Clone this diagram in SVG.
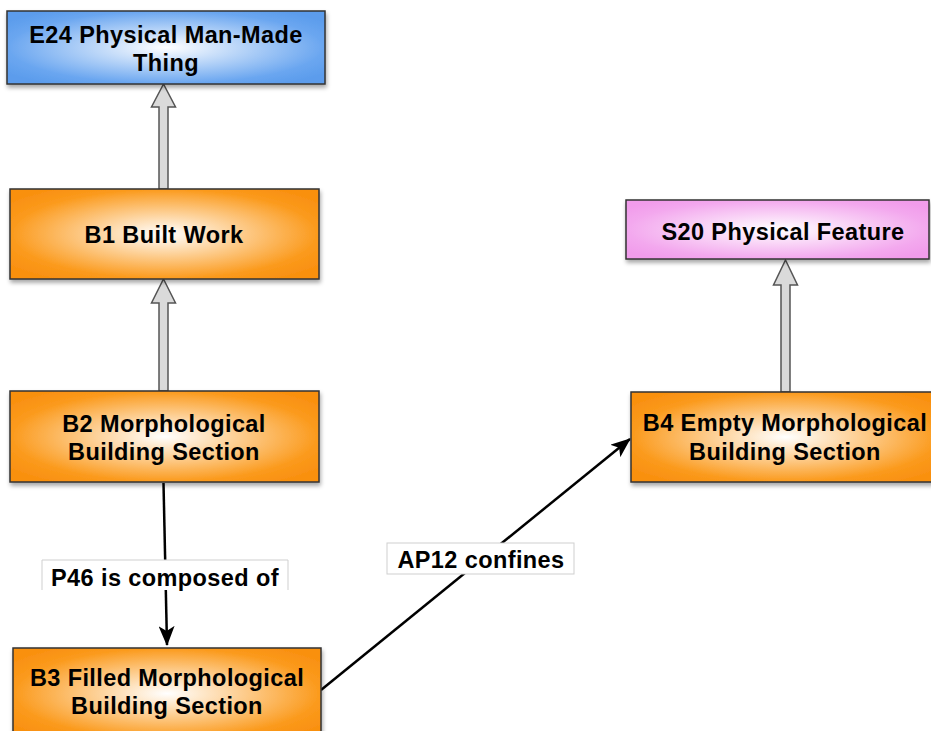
<svg xmlns="http://www.w3.org/2000/svg" width="931" height="731" viewBox="0 0 931 731">
  <defs>
    <radialGradient id="gOrange" cx="0.5" cy="0.5" r="0.62">
      <stop offset="0" stop-color="#ffffff"/>
      <stop offset="0.8" stop-color="#fb9a1c"/>
      <stop offset="1" stop-color="#f99010"/>
    </radialGradient>
    <radialGradient id="gBlue" cx="0.5" cy="0.5" r="0.62">
      <stop offset="0" stop-color="#ffffff"/>
      <stop offset="0.8" stop-color="#6aa6f0"/>
      <stop offset="1" stop-color="#5b9cec"/>
    </radialGradient>
    <radialGradient id="gPink" cx="0.5" cy="0.5" r="0.62">
      <stop offset="0" stop-color="#ffffff"/>
      <stop offset="0.8" stop-color="#f3a8ee"/>
      <stop offset="1" stop-color="#f19ceb"/>
    </radialGradient>
    <filter id="shadow" x="-10%" y="-20%" width="120%" height="150%">
      <feDropShadow dx="1" dy="3" stdDeviation="2" flood-color="#000" flood-opacity="0.35"/>
    </filter>
    <marker id="arrow" viewBox="0 0 20 16" refX="19" refY="8" markerWidth="20" markerHeight="16" markerUnits="userSpaceOnUse" orient="auto">
      <path d="M0,0 L20,8 L0,16 L5,8 z" fill="#000"/>
    </marker>
  </defs>
  <style>
    .box { stroke: #333; stroke-width: 1.5; filter: url(#shadow); }
    .orange { fill: url(#gOrange); }
    .blue { fill: url(#gBlue); }
    .pink { fill: url(#gPink); }
    .t { font-family: "Liberation Sans", Arial, Helvetica, sans-serif; font-weight: bold; font-size: 23.5px; letter-spacing: 0.4px; fill: #000; text-anchor: middle; }
    .gen { fill: #dadada; stroke: #555; stroke-width: 1.5; stroke-linejoin: miter; }
    .rel { stroke: #000; stroke-width: 2.5; fill: none; marker-end: url(#arrow); }
    .lbl { fill: #fff; }
    .lblb { fill: none; stroke: #cfcfcf; stroke-width: 1; }
  </style>

  <rect width="931" height="731" fill="#fff"/>

  <!-- connectors -->
  <g id="connectors">
    <!-- B1 is-a E24 -->
    <path class="gen" d="M163.5,84 L175.5,107 L168,107 L168,189 L159,189 L159,107 L151.5,107 Z"/>
    <!-- B2 is-a B1 -->
    <path class="gen" d="M163.5,279 L175.5,303 L168,303 L168,391 L159,391 L159,303 L151.5,303 Z"/>
    <!-- B4 is-a S20 -->
    <path class="gen" d="M785.5,260 L797.5,285 L790,285 L790,392 L781,392 L781,285 L773.5,285 Z"/>
    <!-- P46 is composed of -->
    <line class="rel" x1="163.5" y1="483" x2="167" y2="645"/>
    <rect class="lbl" x="42" y="560" width="246" height="30"/>
    <path class="lblb" d="M42,590 V560 H288 V590"/>
    <text class="t" x="165" y="586">P46 is composed of</text>
    <!-- AP12 confines -->
    <line class="rel" x1="321" y1="690" x2="630" y2="439"/>
    <rect class="lbl" x="387" y="543" width="187" height="31"/>
    <rect class="lblb" x="387" y="543" width="187" height="31"/>
    <text class="t" x="481" y="568">AP12 confines</text>
  </g>

  <g id="E24">
    <rect class="box blue" x="7" y="11" width="318" height="73"/>
    <text class="t" x="166" y="43">E24 Physical Man-Made</text>
    <text class="t" x="166" y="71">Thing</text>
  </g>

  <g id="B1">
    <rect class="box orange" x="10" y="189" width="309" height="90"/>
    <text class="t" x="164" y="243">B1 Built Work</text>
  </g>

  <g id="B2">
    <rect class="box orange" x="10" y="391" width="309" height="91"/>
    <text class="t" x="164" y="432">B2 Morphological</text>
    <text class="t" x="164" y="460">Building Section</text>
  </g>

  <g id="B3">
    <rect class="box orange" x="13" y="648" width="308" height="91"/>
    <text class="t" x="167" y="686">B3 Filled Morphological</text>
    <text class="t" x="167" y="714">Building Section</text>
  </g>

  <g id="S20">
    <rect class="box pink" x="626" y="200" width="303" height="59"/>
    <text class="t" x="783" y="240">S20 Physical Feature</text>
  </g>

  <g id="B4">
    <rect class="box orange" x="631" y="392" width="309" height="90"/>
    <text class="t" x="785" y="431">B4 Empty Morphological</text>
    <text class="t" x="785" y="460">Building Section</text>
  </g>
</svg>
